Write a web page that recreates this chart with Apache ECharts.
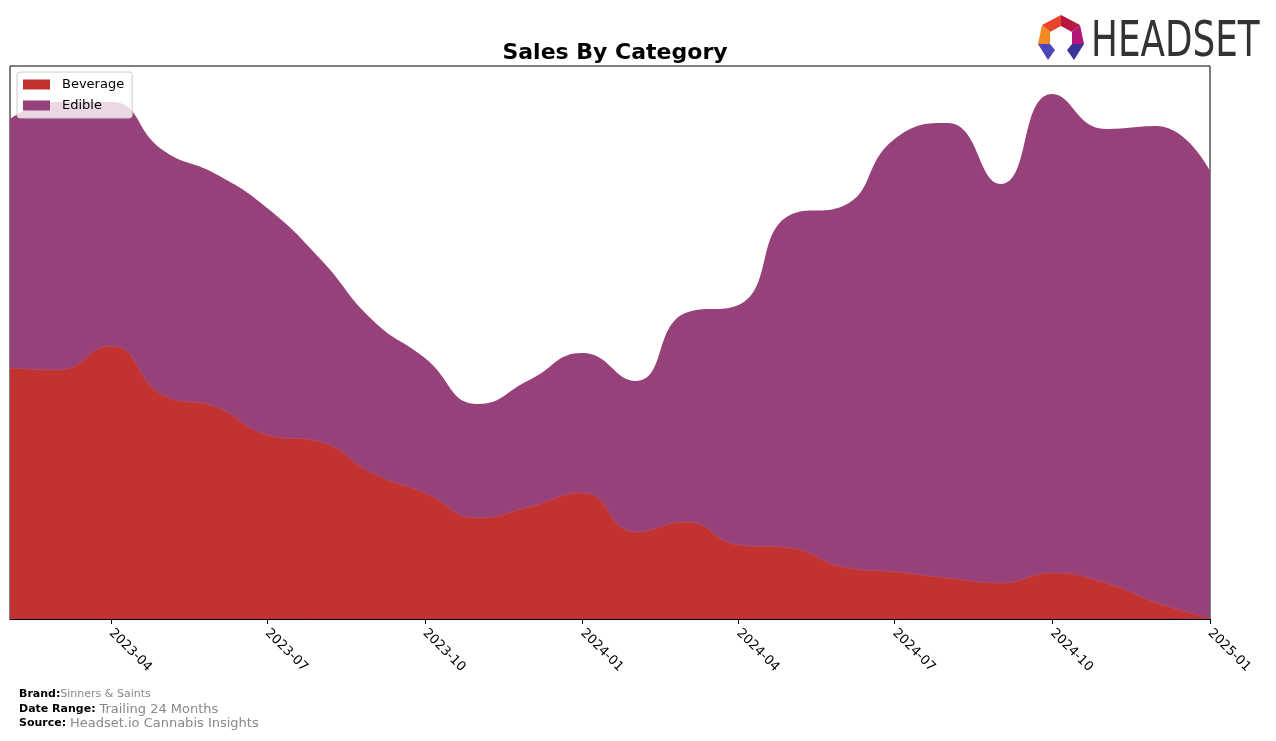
<!DOCTYPE html>
<html>
<head>
<meta charset="utf-8">
<script src="https://cdn.jsdelivr.net/npm/echarts@6/dist/echarts.min.js"></script>
<style>html,body{margin:0;padding:0;background:#fff}#c{width:1276px;height:741px}</style>
</head>
<body>
<div id="c"></div>
<script>
const months = ['2023-02-01','2023-03-01','2023-04-01','2023-05-01','2023-06-01','2023-07-01','2023-08-01','2023-09-01','2023-10-01','2023-11-01','2023-12-01','2024-01-01','2024-02-01','2024-03-01','2024-04-01','2024-05-01','2024-06-01','2024-07-01','2024-08-01','2024-09-01','2024-10-01','2024-11-01','2024-12-01','2025-01-01'];
const beverage = [251,249,273,224,212,184,177,145,126,101,112,126,87,97,74,71,52,47,41,36,46,36,16,1];
const edible = [249,268,244,245,233,227,183,153,135,114,127,140,151,209,240,333,361,433,455,399,479,454,477,447];
const tickLabels = ['2023-04','2023-07','2023-10','2024-01','2024-04','2024-07','2024-10','2025-01'];

const toTs = d => +new Date(d + 'T00:00:00Z');
const tickValues = tickLabels.map(t => toTs(t + '-01'));
const bevData = months.map((m, i) => [toTs(m), beverage[i]]);
// Edible is stacked on top of Beverage
const ediStacked = months.map((m, i) => [toTs(m), beverage[i] + edible[i]]);

const chart = echarts.init(document.getElementById('c'));
const F = 'DejaVu Sans';
chart.setOption({
  animation: false,
  textStyle: { fontFamily: F },
  title: { text: 'Sales By Category', left: 610, top: 37, textAlign: 'center',
    textStyle: { fontSize: 22, fontWeight: 'bold', color: '#000', fontFamily: F } },
  grid: { left: 10, right: 66, top: 66, bottom: 122, show: true, borderColor: '#000', borderWidth: 1, backgroundColor: 'transparent', containLabel: false },
  legend: {
    orient: 'vertical', left: 17, top: 72, itemWidth: 27, itemHeight: 10, itemGap: 8,
    padding: [6, 8, 6, 6], backgroundColor: 'rgba(255,255,255,0.8)', borderColor: '#ccc', borderWidth: 1, borderRadius: 3,
    textStyle: { fontSize: 13, color: '#000', fontFamily: F, padding: [0, 0, 0, 7] },
    data: [{ name: 'Beverage', icon: 'rect' }, { name: 'Edible', icon: 'rect' }]
  },
  xAxis: {
    type: 'value', min: toTs('2023-02-01'), max: toTs('2025-01-01'),
    axisLine: { show: true, lineStyle: { color: '#000', width: 1 } },
    axisTick: { show: true, length: 5, lineStyle: { color: '#000' }, customValues: tickValues },
    axisLabel: { show: true, rotate: -45, fontSize: 13, color: '#000', fontFamily: F, margin: 12,
      customValues: tickValues,
      formatter: v => { const d = new Date(v); return d.getUTCFullYear() + '-' + String(d.getUTCMonth() + 1).padStart(2, '0'); } },
    splitLine: { show: false }
  },
  yAxis: { type: 'value', min: 0, max: 553, show: false, splitLine: { show: false } },
  series: [
    { name: 'Edible', type: 'line', smooth: 0.5, showSymbol: false, data: ediStacked, z: 2,
      lineStyle: { width: 0 }, itemStyle: { color: '#96417a' }, areaStyle: { color: '#96417a', opacity: 1 } },
    { name: 'Beverage', type: 'line', smooth: 0.5, showSymbol: false, data: bevData, z: 3,
      lineStyle: { width: 0.6, color: '#c5525a' }, itemStyle: { color: '#c13231' }, areaStyle: { color: '#c13231', opacity: 1 } }
  ],
  graphic: [
    { type: 'polygon', shape: { points: [[1061,15],[1042,25],[1050,32],[1061,26]] }, style: { fill: '#e8452c' } },
    { type: 'polygon', shape: { points: [[1061,15],[1080,25],[1072,32],[1061,26]] }, style: { fill: '#b8173f' } },
    { type: 'polygon', shape: { points: [[1042,25],[1038,44],[1050,44],[1050,32]] }, style: { fill: '#f28a24' } },
    { type: 'polygon', shape: { points: [[1080,25],[1084,44],[1072,44],[1072,32]] }, style: { fill: '#b3167a' } },
    { type: 'polygon', shape: { points: [[1038,44],[1050,44],[1055,50],[1048,60]] }, style: { fill: '#4b45b8' } },
    { type: 'polygon', shape: { points: [[1084,44],[1072,44],[1067,50],[1074,60]] }, style: { fill: '#3b3298' } },
    { type: 'text', x: 1091, y: 18, scaleX: 0.715, style: { text: 'HEADSET', font: '50px "DejaVu Sans"', fill: '#333', textVerticalAlign: 'top' } },
    { type: 'text', x: 19, y: 689, style: { text: '{b|Brand:}{v|Sinners & Saints}', rich: { b: { fontWeight: 'bold', fontSize: 11, fill: '#000', fontFamily: F }, v: { fontSize: 11, fill: '#888', fontFamily: F } } } },
    { type: 'text', x: 19, y: 703, style: { text: '{b|Date Range: }{v|Trailing 24 Months}', rich: { b: { fontWeight: 'bold', fontSize: 11, fill: '#000', fontFamily: F }, v: { fontSize: 13, fill: '#888', fontFamily: F } } } },
    { type: 'text', x: 19, y: 717, style: { text: '{b|Source: }{v|Headset.io Cannabis Insights}', rich: { b: { fontWeight: 'bold', fontSize: 11, fill: '#000', fontFamily: F }, v: { fontSize: 13, fill: '#888', fontFamily: F } } } }
  ]
});
</script>
</body>
</html>
